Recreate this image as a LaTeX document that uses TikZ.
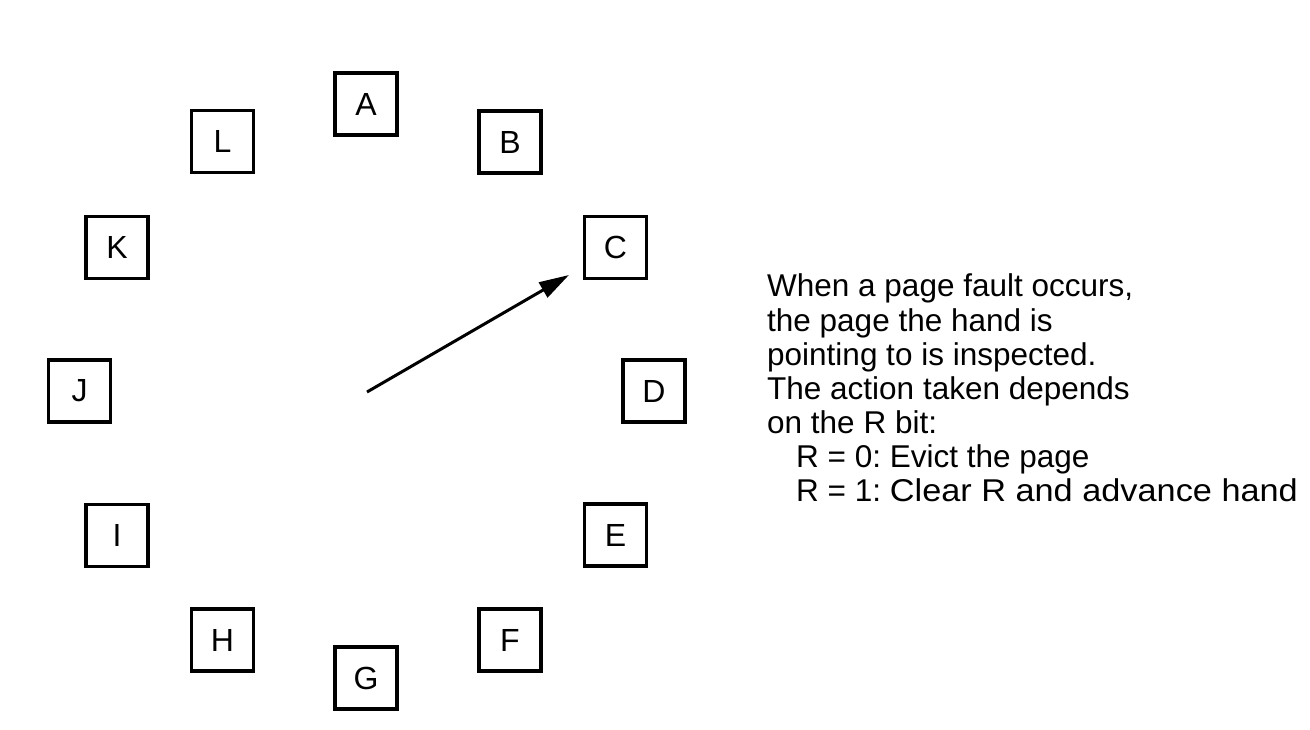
\documentclass[tikz,border=0pt]{standalone}
\usepackage{fontspec}
\usepackage{graphicx}
\setmainfont{Liberation Sans}
\usetikzlibrary{arrows.meta}
\frenchspacing
\begin{document}
\begin{tikzpicture}[x=1pt,y=-1pt,
  page/.style={draw,line width=3.2pt,minimum size=62pt,inner sep=0pt,font=\fontsize{32}{34}\selectfont},
  txt/.style={anchor=base west,inner sep=0pt,font=\fontsize{31.5}{34}\selectfont},
  hand/.style={line width=3pt,-{Triangle[length=30pt,width=17pt]}}]
\useasboundingbox (0,0) rectangle (1310,730);
\node[page] (A) at (366,104) {A};
\node[page] (B) at (510,142) {B};
\node[page] (C) at (615.5,247.5) {C};
\node[page] (D) at (654,391) {D};
\node[page] (E) at (615.5,535) {E};
\node[page] (F) at (510,640) {F};
\node[page] (G) at (366,678) {G};
\node[page] (H) at (222.5,640) {H};
\node[page] (I) at (117,535.5) {I};
\node[page] (J) at (79.5,391) {J};
\node[page] (K) at (117,247.5) {K};
\node[page] (L) at (222.5,141.5) {L};
\coordinate (hub) at (367,392);
\coordinate (tip) at (569,275);
\draw[hand] (hub) -- (tip);
\node[txt] (t1) at (767,297) {When a page fault occurs,};
\node[txt] (t2) at (767,331) {the page the hand is};
\node[txt] (t3) at (767,365) {pointing to is inspected.};
\node[txt] (t4) at (767,399) {The action taken depends};
\node[txt] (t5) at (767,433) {on the R bit:};
\node[txt] (t6) at (796,467) {R = 0: Evict the page};
\node[txt] (t7) at (796,501) {R = 1: \resizebox{408pt}{\height}{Clear R and advance hand}};
\end{tikzpicture}
\end{document}
